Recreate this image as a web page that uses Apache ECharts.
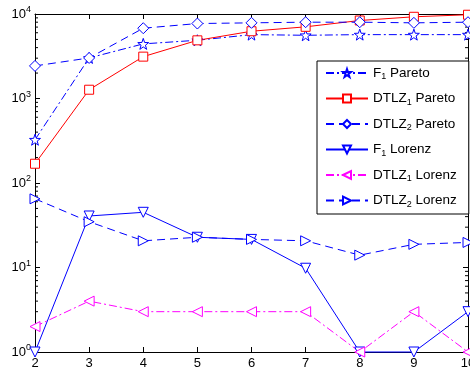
<!DOCTYPE html>
<html><head><meta charset="utf-8">
<script src="https://cdn.jsdelivr.net/npm/echarts@6/dist/echarts.min.js"></script>
<style>html,body{margin:0;padding:0;background:#fff}#c{width:470px;height:373px}</style>
</head><body><div id="c"></div>
<script>
const xValues = [2, 3, 4, 5, 6, 7, 8, 9, 10];
const f1Pareto    = [325, 3020, 4430, 4890, 5700, 5600, 5700, 5700, 5700];
const dtlz1Pareto = [169, 1270, 3130, 4880, 6250, 7050, 8380, 9270, 9800];
const dtlz2Pareto = [2430, 3020, 6790, 7710, 7860, 8000, 8000, 7860, 8000];
const f1Lorenz    = [1, 40.7, 45, 22.8, 21.5, 9.8, 1, 1, 3];
const dtlz1Lorenz = [2, 4, 3, 3, 3, 3, 1, 3, 1];
const dtlz2Lorenz = [65, 34.8, 20.7, 22.8, 21.5, 20.7, 14, 18.8, 19.8];
const seriesNames = ['F1 Pareto', 'DTLZ1 Pareto', 'DTLZ2 Pareto', 'F1 Lorenz', 'DTLZ1 Lorenz', 'DTLZ2 Lorenz'];

const FONT = 'Liberation Sans, Arial, Helvetica, sans-serif';
const BLUE = '#0000ff', RED = '#ff0000', MAG = '#ff00ff';

// pentagram symbol path
function starPath() {
  let d = '';
  for (let i = 0; i < 10; i++) {
    const r = i % 2 === 0 ? 50 : 20;
    const a = -Math.PI / 2 + i * Math.PI / 5;
    const x = (50 + r * Math.cos(a)).toFixed(2), y = (50 + r * Math.sin(a)).toFixed(2);
    d += (i === 0 ? 'M' : 'L') + x + ' ' + y + ' ';
  }
  return 'path://' + d + 'Z';
}
const STAR = starPath();

// minor tick values for log axis
const minorVals = [];
for (let k = 0; k < 4; k++) for (let m = 2; m <= 9; m++) minorVals.push(m * Math.pow(10, k));

function pairs(arr) { return arr.map((v, i) => [xValues[i], v]); }

function mk(name, data, color, dash, symbol, rot, size) {
  return {
    name, type: 'line', data: pairs(data), clip: false,
    symbol, symbolSize: size, symbolRotate: rot, showSymbol: true,
    lineStyle: { color, width: 1, type: dash },
    itemStyle: { color: '#fff', borderColor: color, borderWidth: 1 },
    emphasis: { disabled: true }, z: 3
  };
}
const DASH = [8, 5];
const DASHDOT = [8, 3, 2, 3];

const chart = echarts.init(document.getElementById('c'), null, { renderer: 'canvas' });
const axisCommon = {
  axisLine: { show: true, onZero: false, lineStyle: { color: '#000', width: 1 } },
  axisTick: { show: true, inside: true, length: 5, lineStyle: { color: '#000' } },
  splitLine: { show: false }
};
chart.setOption({
  animation: false,
  backgroundColor: '#fff',
  grid: { left: 35, right: 2, top: 14, bottom: 21, containLabel: false, outerBoundsMode: 'none' },
  xAxis: [
    Object.assign({ type: 'value', min: 2, max: 10, interval: 1, position: 'bottom',
      axisLabel: { color: '#000', fontSize: 13, fontFamily: FONT, margin: 5,
        alignMinLabel: 'center', alignMaxLabel: 'center', hideOverlap: false } }, axisCommon),
    Object.assign({ type: 'value', min: 2, max: 10, interval: 1, position: 'top',
      axisLabel: { show: false } }, axisCommon)
  ],
  yAxis: [
    Object.assign({ type: 'log', logBase: 10, min: 1, max: 10000, position: 'left',
      axisLabel: { color: '#000', fontFamily: FONT, margin: 4,
        formatter: v => '{b|10}{e|' + Math.round(Math.log10(v)) + '}',
        rich: { b: { fontSize: 13, fontFamily: FONT, color: '#000' },
                e: { fontSize: 9, fontFamily: FONT, color: '#000', padding: [0, 0, 8, 0] } } } }, axisCommon),
    Object.assign({ type: 'log', logBase: 10, min: 1, max: 10000, position: 'right',
      axisLabel: { show: false } }, axisCommon)
  ],
  legend: {
    data: seriesNames,
    orient: 'vertical', left: 317, top: 61,
    width: 149,
    padding: [5, 12, 5, 8],
    itemWidth: 42, itemHeight: 10, itemGap: 10,
    backgroundColor: '#fff', borderColor: '#000', borderWidth: 1, borderRadius: 0,
    textStyle: { color: '#000', fontFamily: FONT, fontSize: 13.5,
      rich: { n: { fontSize: 13.5, fontFamily: FONT, color: '#000' },
              s: { fontSize: 9, fontFamily: FONT, color: '#000', padding: [8, 0, 0, 0] } } },
    formatter: name => {
      const m = name.match(/^(F|DTLZ)(\d) (.*)$/);
      return '{n|' + m[1] + '}{s|' + m[2] + '}{n| ' + m[3] + '}';
    },
    selectedMode: false, z: 10
  },
  series: [
    mk(seriesNames[0], f1Pareto, BLUE, DASHDOT, STAR, 0, 11),
    mk(seriesNames[1], dtlz1Pareto, RED, 'solid', 'rect', 0, 9),
    mk(seriesNames[2], dtlz2Pareto, BLUE, DASH, 'diamond', 0, 11),
    mk(seriesNames[3], f1Lorenz, BLUE, 'solid', 'triangle', 180, 10),
    mk(seriesNames[4], dtlz1Lorenz, MAG, DASHDOT, 'triangle', 90, 10),
    mk(seriesNames[5], dtlz2Lorenz, BLUE, DASH, 'triangle', -90, 10),
    {
      type: 'custom', name: 'minor', silent: true, z: 2,
      data: minorVals.map(v => [2, v]),
      renderItem: (params, api) => {
        const v = api.value(1);
        const pl = api.coord([2, v]);
        const pr = api.coord([10, v]);
        return { type: 'group', children: [
          { type: 'line', shape: { x1: pl[0], y1: pl[1], x2: pl[0] + 3, y2: pl[1] }, style: { stroke: '#000', lineWidth: 1 } },
          { type: 'line', shape: { x1: pr[0] - 3, y1: pr[1], x2: pr[0], y2: pr[1] }, style: { stroke: '#000', lineWidth: 1 } }
        ]};
      }
    }
  ]
});
</script></body></html>
